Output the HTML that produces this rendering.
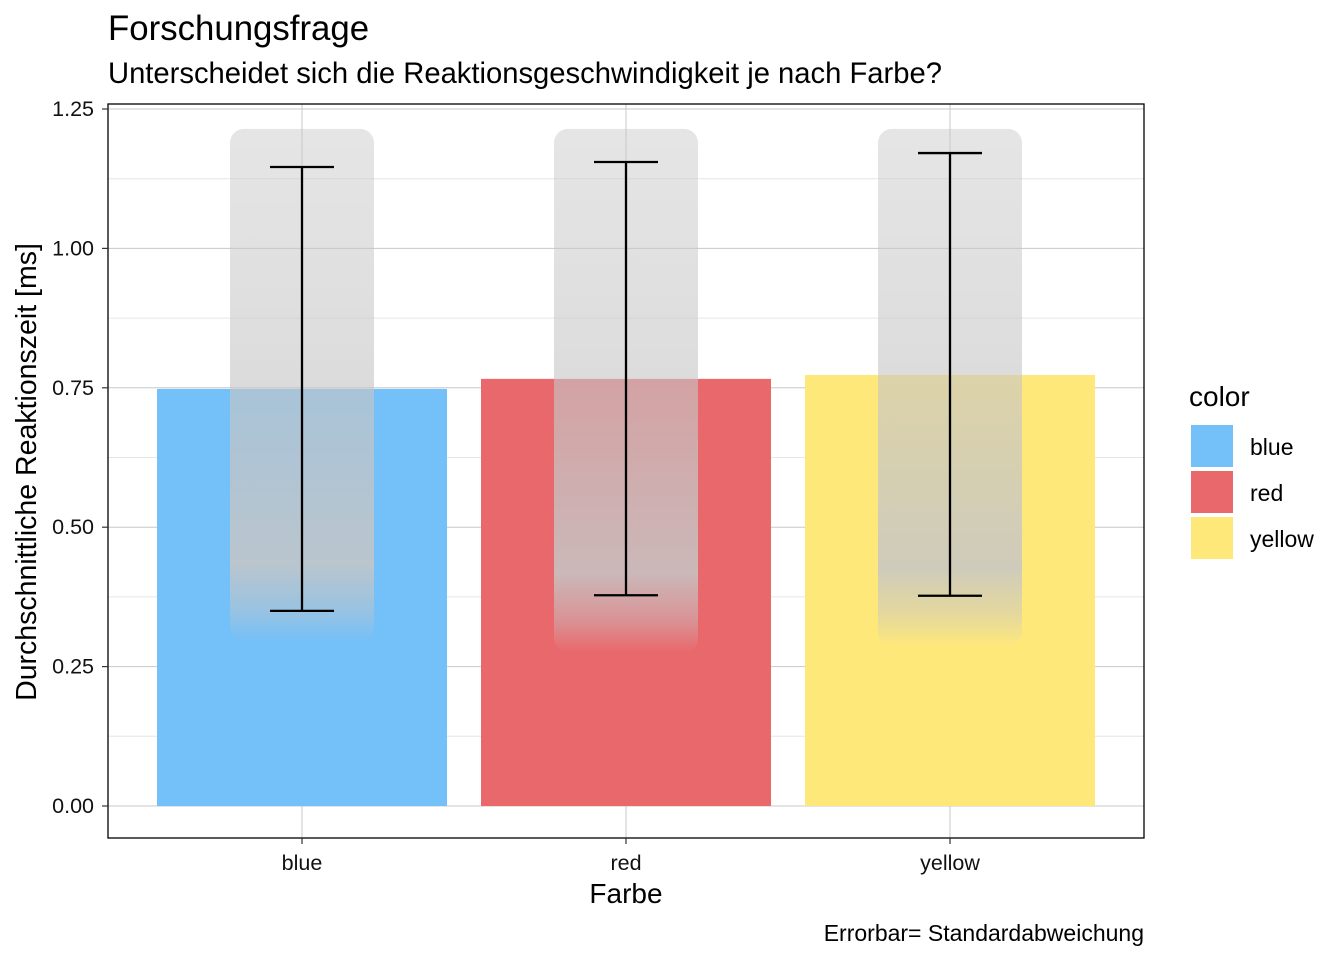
<!DOCTYPE html>
<html><head><meta charset="utf-8"><style>
body{margin:0;background:#fff;font-family:"Liberation Sans",Arial,sans-serif}
</style></head><body>
<svg id="c" width="1344" height="960" xmlns="http://www.w3.org/2000/svg" font-family="Liberation Sans, Arial, sans-serif">
<defs>
<linearGradient id="fade" x1="0" y1="0" x2="0" y2="1">
<stop offset="0" stop-color="#c6c6c6" stop-opacity="0.45"/>
<stop offset="0.45" stop-color="#c6c6c6" stop-opacity="0.6"/>
<stop offset="0.85" stop-color="#c6c6c6" stop-opacity="0.85"/>
<stop offset="0.94" stop-color="#c6c6c6" stop-opacity="0.45"/>
<stop offset="1" stop-color="#c6c6c6" stop-opacity="0"/>
</linearGradient>
</defs>
<text x="108" y="40" font-size="34.8" fill="#000">Forschungsfrage</text>
<text x="108" y="83" font-size="29.2" fill="#000">Unterscheidet sich die Reaktionsgeschwindigkeit je nach Farbe?</text>
<g id="grid"></g>
<g id="bars"></g>
<g id="clouds"></g>
<g id="errs"></g>
<rect x="108" y="104" width="1036" height="734" fill="none" stroke="#000" stroke-width="1.3"/>
<g id="axes"></g>
<text x="626" y="903" font-size="28" text-anchor="middle">Farbe</text>
<text transform="translate(36,472) rotate(-90)" font-size="28.5" text-anchor="middle">Durchschnittliche Reaktionszeit [ms]</text>
<text x="1144" y="941" font-size="23" text-anchor="end">Errorbar= Standardabweichung</text>
<g id="legend"></g>
</svg>
<script>
const categories=["blue","red","yellow"];
const means=[0.748,0.766,0.773];
const sdLow=[0.350,0.378,0.377];
const sdHigh=[1.146,1.155,1.171];
const cloudMin=[0.31,0.29,0.30];
const cloudMax=[1.20,1.20,1.20];
const yTicks=[0,0.25,0.5,0.75,1.0,1.25];
const yTickLabels=["0.00","0.25","0.50","0.75","1.00","1.25"];
const colors=["#74c0f8","#e9686c","#ffe87a"];
const NS="http://www.w3.org/2000/svg";
const y=v=>806-v*557.6;
const x=i=>302+i*324;
function mk(tag,attrs,parent){const e=document.createElementNS(NS,tag);for(const k in attrs)e.setAttribute(k,attrs[k]);document.getElementById(parent).appendChild(e);return e;}
for(let i=0;i<yTicks.length-1;i++){const v=(yTicks[i]+yTicks[i+1])/2;const l=mk("line",{x1:108,x2:1144,y1:y(v),y2:y(v),stroke:"#e6e6e6","stroke-width":1},"grid");

}
yTicks.forEach((v,i)=>{const l=mk("line",{x1:108,x2:1144,y1:y(v),y2:y(v),stroke:"#c8c8c8","stroke-width":1},"grid");


const t=mk("line",{x1:102,x2:108,y1:y(v),y2:y(v),stroke:"#333","stroke-width":1.2},"axes");


const tx=mk("text",{x:94,y:y(v)+7,"font-size":21.5,"text-anchor":"end",fill:"#111"},"axes");tx.textContent=yTickLabels[i];

});
categories.forEach((c,i)=>{const l=mk("line",{x1:x(i),x2:x(i),y1:104,y2:838,stroke:"#c8c8c8","stroke-width":1},"grid");


const b=mk("rect",{x:x(i)-145,y:y(means[i]),width:290,height:y(0)-y(means[i]),fill:colors[i]},"bars");


const cl=mk("rect",{x:x(i)-72,y:y(cloudMax[i])-8,width:144,height:y(cloudMin[i])-y(cloudMax[i])+16,rx:14,fill:"url(#fade)"},"clouds");


const p=mk("path",{d:`M${x(i)-32} ${y(sdHigh[i])}H${x(i)+32}M${x(i)} ${y(sdHigh[i])}V${y(sdLow[i])}M${x(i)-32} ${y(sdLow[i])}H${x(i)+32}`,stroke:"#000","stroke-width":2.3,fill:"none"},"errs");


const t=mk("line",{x1:x(i),x2:x(i),y1:838,y2:844,stroke:"#333","stroke-width":1.2},"axes");


const tx=mk("text",{x:x(i),y:870,"font-size":21.5,"text-anchor":"middle",fill:"#111"},"axes");tx.textContent=c;


const k=mk("rect",{x:1191,y:425+i*46,width:42,height:42,fill:colors[i]},"legend");


const lt=mk("text",{x:1250,y:455+i*46,"font-size":23},"legend");lt.textContent=c;

});
const lg=mk("text",{x:1189,y:406,"font-size":28},"legend");lg.textContent="color";


</script>
</body></html>
